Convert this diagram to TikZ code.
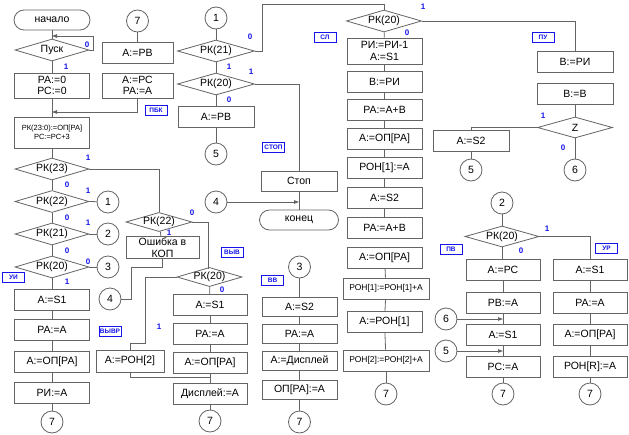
\documentclass[tikz,border=0pt]{standalone}
\usepackage{fontspec}
\setmainfont{Liberation Sans}
\usetikzlibrary{shapes.geometric,arrows.meta}
\definecolor{lc}{RGB}{100,100,100}
\definecolor{lb}{RGB}{20,20,235}
\tikzset{
 ln/.style={draw=lc, line width=0.8pt},
 fnt/.style={font=\fontsize{10.5}{11.5}\selectfont},
 box/.style={draw=lc, line width=0.8pt, fill=white, rectangle, minimum width=75pt, minimum height=21pt, inner sep=1pt, fnt, align=center},
 dia/.style={draw=lc, line width=0.8pt, fill=white, diamond, aspect=3.4, minimum width=74pt, minimum height=22pt, inner sep=0pt, fnt},
 term/.style={draw=lc, line width=0.8pt, fill=white, rectangle, rounded corners=10pt, minimum width=76pt, minimum height=20pt, fnt},
 conn/.style={draw=lc, line width=0.8pt, fill=white, circle, minimum size=22pt, inner sep=0pt, fnt},
 num/.style={text=lb, font=\bfseries\fontsize{8}{8}\selectfont, inner sep=0pt},
 tag/.style={draw=lb, line width=0.7pt, text=lb, fill=white, font=\bfseries\fontsize{6.5}{7}\selectfont, minimum width=22pt, minimum height=10pt, inner sep=1pt},
 arr/.style={ln, -{Triangle[length=5pt,width=3.5pt]}},
}
\begin{document}
\begin{tikzpicture}[x=1pt,y=-1pt]
\useasboundingbox (0,0) rectangle (629,434);
% ---------- column 1
\node[term] (start) at (52,20) {начало};
\node[dia] (pusk) at (52,50) {Пуск};
\node[box, minimum height=25pt] (ra0) at (52,85.5) {РА:=0\\РС:=0};
\node[box, minimum height=31pt, font=\fontsize{7.5}{9}\selectfont] (rk) at (52,132.5) {РК(23:0):=ОП[РА]\\РС:=РС+3};
\node[dia] (d23) at (52,169) {РК(23)};
\node[dia] (d22) at (52,201.5) {РК(22)};
\node[dia] (d21) at (52,234) {РК(21)};
\node[dia] (d20a) at (52,267) {РК(20)};
\node[conn] (c1a) at (108,202) {1};
\node[conn] (c2a) at (108,234) {2};
\node[conn] (c3a) at (108,267) {3};
\node[box] (s1a) at (52,299.5) {А:=S1};
\node[box] (raa) at (52,330) {РА:=А};
\node[box] (opa) at (52,361.5) {А:=ОП[РА]};
\node[box] (ria) at (52,392.5) {РИ:=А};
\node[conn] (c7a) at (52,422) {7};
\coordinate (j1) at (52,36);
\coordinate (j2) at (52,112);
\draw[ln] (start) -- (pusk);
\draw[arr] (pusk.east) -- (93,50) -- (93,36) -- (j1);
\draw[ln] (pusk) -- (ra0);
\draw[ln] (ra0) -- (rk);
\draw[ln] (rk) -- (d23);
\draw[ln] (d23) -- (d22);
\draw[ln] (d22) -- (d21);
\draw[ln] (d21) -- (d20a);
\draw[ln] (d22.east) -- (c1a);
\draw[ln] (d21.east) -- (c2a);
\draw[ln] (d20a.east) -- (c3a);
\draw[ln] (d20a) -- (s1a);
\draw[ln] (s1a) -- (raa);
\draw[ln] (raa) -- (opa);
\draw[ln] (opa) -- (ria);
\draw[ln] (ria) -- (c7a);
% ---------- column 2
\node[conn] (c7b) at (137.5,21) {7};
\node[box, minimum width=71pt] (arv) at (137.5,53) {А:=РВ};
\node[box, minimum width=71pt, minimum height=25pt] (arc) at (137.5,85.5) {А:=РС\\РА:=А};
\draw[ln] (c7b) -- (arv);
\draw[arr] (arc.south) -- (137.5,112) -- (j2);
% ---------- middle branches
\node[dia, minimum width=66pt, minimum height=18pt] (d22b) at (159,222) {РК(22)};
\node[box, minimum width=73pt] (err) at (162.5,247.5) {Ошибка в\\КОП};
\node[conn] (c4a) at (110,299) {4};
\node[dia, minimum width=63pt, minimum height=17pt] (d20c) at (209.5,277) {РК(20)};
\node[box, minimum width=68pt, minimum height=22pt] (ron2) at (130,361) {А:=РОН[2]};
\draw[ln] (d23.east) -- (159,169) -- (d22b.north);
\draw[ln] (d22b) -- (err);
\draw[ln] (err.south -| 162,0) -- (162,267) -- (131,267) -- (131,299) -- (c4a.east);
\draw[ln] (d22b.east) -- (208,222) -- (208,268.5);
\draw[ln] (d20c.west) -- (145,277) -- (145,343) -- (130,343) -- (ron2.north);
% ---------- ВЫВ column
\node[box, minimum width=74pt] (s1c) at (210,305) {А:=S1};
\node[box, minimum width=74pt] (rac) at (210,333.5) {РА:=А};
\node[box, minimum width=74pt] (opc) at (210,362.5) {А:=ОП[РА]};
\node[box, minimum width=74pt] (disp) at (210,394) {Дисплей:=А};
\node[conn] (c7c) at (210,421) {7};
\coordinate (j3) at (210,377);
\draw[ln] (d20c) -- (s1c);
\draw[ln] (s1c) -- (rac);
\draw[ln] (rac) -- (opc);
\draw[ln] (opc) -- (disp);
\draw[ln] (disp) -- (c7c);
\draw[ln] (ron2.south) -- (130,377) -- (j3);
% ---------- ВВ column
\node[conn] (c3b) at (299.5,267) {3};
\node[box, minimum height=19pt] (s2d) at (299.5,307) {А:=S2};
\node[box, minimum height=19pt] (rad) at (299.5,334) {РА:=А};
\node[box, minimum height=19pt] (dspd) at (299.5,361) {А:=Дисплей};
\node[box, minimum height=19pt] (opd) at (299.5,389.5) {ОП[РА]:=А};
\node[conn] (c7d) at (299.5,422) {7};
\draw[ln] (c3b) -- (s2d);
\draw[ln] (s2d) -- (rad);
\draw[ln] (rad) -- (dspd);
\draw[ln] (dspd) -- (opd);
\draw[ln] (opd) -- (c7d);
% ---------- column 3
\node[conn] (c1b) at (216,18) {1};
\node[dia, minimum width=77pt] (d21b) at (216,51) {РК(21)};
\node[dia, minimum width=77pt] (d20b) at (216,84) {РК(20)};
\node[box, minimum width=76pt] (arv2) at (216,116.5) {А:=РВ};
\node[conn] (c5a) at (216,154) {5};
\node[box, minimum width=76pt, minimum height=20pt] (stop) at (299,181) {Стоп};
\node[term, minimum width=79pt] (end) at (299,220) {конец};
\node[conn] (c4b) at (216,202) {4};
\draw[ln] (c1b) -- (d21b);
\draw[ln] (d21b) -- (d20b);
\draw[ln] (d20b) -- (arv2);
\draw[ln] (arv2) -- (c5a);
\draw[ln] (d20b.east) -- (299,84) -- (stop.north);
\draw[ln] (stop) -- (end);
\draw[arr] (c4b) -- (299,202);
% ---------- СЛ column
\node[dia, minimum width=75pt] (d20d) at (384,21) {РК(20)};
\draw[ln] (d21b.east) -- (262,51) -- (262,4) -- (384,4) -- (d20d.north);
\node[box, minimum height=26pt] (sl1) at (384.5,51) {РИ:=РИ-1\\А:=S1};
\node[box] (sl2) at (384.5,81.5) {В:=РИ};
\node[box] (sl3) at (384.5,110) {РА:=А+В};
\node[box] (sl4) at (384.5,139) {А:=ОП[РА]};
\node[box] (sl5) at (384.5,167.5) {РОН[1]:=А};
\node[box] (sl6) at (384.5,198) {А:=S2};
\node[box] (sl7) at (384.5,228) {РА:=А+В};
\node[box] (sl8) at (384.5,257.5) {А:=ОП[РА]};
\node[box, minimum width=86pt, font=\fontsize{8.5}{10}\selectfont] (sl9) at (386,288.5) {РОН[1]:=РОН[1]+А};
\node[box] (sl10) at (384.5,322) {А:=РОН[1]};
\node[box, minimum width=86pt, font=\fontsize{8.5}{10}\selectfont] (sl11) at (386,360.5) {РОН[2]:=РОН[2]+А};
\node[conn] (c7e) at (386,394) {7};
\draw[ln] (d20d) -- (sl1);
\draw[ln] (sl1) -- (sl2);
\draw[ln] (sl2) -- (sl3);
\draw[ln] (sl3) -- (sl4);
\draw[ln] (sl4) -- (sl5);
\draw[ln] (sl5) -- (sl6);
\draw[ln] (sl6) -- (sl7);
\draw[ln] (sl8) -- (sl9);
\draw[ln] (sl9) -- (sl10);
\draw[ln] (sl10) -- (sl11);
\draw[ln] (sl11) -- (c7e);
% ---------- ПУ column
\node[box, minimum width=76pt] (bri) at (575,62) {В:=РИ};
\node[box, minimum width=76pt] (bb) at (575,94) {В:=В};
\node[dia, minimum width=75pt, minimum height=21pt] (dz) at (575,127.5) {Z};
\node[box, minimum width=76pt] (as2) at (471,141) {А:=S2};
\node[conn] (c5b) at (471,170) {5};
\node[conn] (c6a) at (575,170) {6};
\draw[ln] (d20d.east) -- (575,21) -- (bri.north);
\draw[ln] (bb) -- (dz);
\draw[ln] (dz.west) -- (471,127.5) -- (as2.north);
\draw[ln] (as2) -- (c5b);
\draw[ln] (dz) -- (c6a);
% ---------- ПВ / УР
\node[conn] (c2b) at (502,203) {2};
\node[dia, minimum width=74pt, minimum height=21pt] (d20e) at (502,236.5) {РК(20)};
\node[box, minimum width=74pt] (pv1) at (503,269.5) {А:=РС};
\node[box, minimum width=74pt] (pv2) at (503,302.5) {РВ:=А};
\node[box, minimum width=74pt] (pv3) at (503,334.5) {А:=S1};
\node[box, minimum width=74pt] (pv4) at (503,366.5) {РС:=А};
\node[conn] (c7f) at (503,394) {7};
\node[conn] (c6b) at (446,319) {6};
\node[conn] (c5c) at (446,351) {5};
\node[box, minimum width=74pt] (ur1) at (590,269.5) {А:=S1};
\node[box, minimum width=74pt] (ur2) at (590,302.5) {РА:=А};
\node[box, minimum width=74pt] (ur3) at (590,334.5) {А:=ОП[РА]};
\node[box, minimum width=74pt] (ur4) at (590,366.5) {РОН[R]:=А};
\node[conn] (c7g) at (590,394) {7};
\coordinate (j6) at (503,319);
\coordinate (j5) at (503,351);
\draw[ln] (c2b) -- (d20e);
\draw[ln] (d20e.south) -- (pv1.north -| d20e.south);
\draw[ln] (pv1) -- (pv2);
\draw[ln] (pv2) -- (pv3);
\draw[ln] (pv3) -- (pv4);
\draw[ln] (pv4) -- (c7f);
\draw[arr] (c6b) -- (j6);
\draw[arr] (c5c) -- (j5);
\draw[ln] (d20e.east) -- (590,236.5) -- (ur1.north);
\draw[ln] (ur1) -- (ur2);
\draw[ln] (ur2) -- (ur3);
\draw[ln] (ur3) -- (ur4);
\draw[ln] (ur4) -- (c7g);
% ---------- numbers
\foreach \x/\y/\t in {87/45/0, 66/67/1, 88/158/1, 67/185/0, 88/191/1, 67/218/0, 88/223/1, 67/251/0, 88/262/0, 67/282/1,
  192/213/0, 169/233/1, 222/290/0, 159/327/1, 250/37/0, 229/67/1, 251/72/1, 229/100/0, 423/7/1, 407/33/0,
  543/116/1, 563/148/0, 547/229/1, 521/251/0}
  \node[num] at (\x,\y) {\t};
% ---------- tags
\node[tag] (tpbk) at (156,110.5) {ПБК};
\node[tag] (tui) at (13.5,277.5) {УИ};
\node[tag] (tvyvr) at (110,331) {ВЫВР};
\node[tag] (tvyv) at (232,252) {ВЫВ};
\node[tag] (tvv) at (272.5,280.5) {ВВ};
\node[tag] (tstop) at (273.5,147) {СТОП};
\node[tag] (tsl) at (325,37) {СЛ};
\node[tag] (tpu) at (543,37) {ПУ};
\node[tag] (tpv) at (451,249.5) {ПВ};
\node[tag] (tur) at (606.5,248) {УР};
\end{tikzpicture}
\end{document}
